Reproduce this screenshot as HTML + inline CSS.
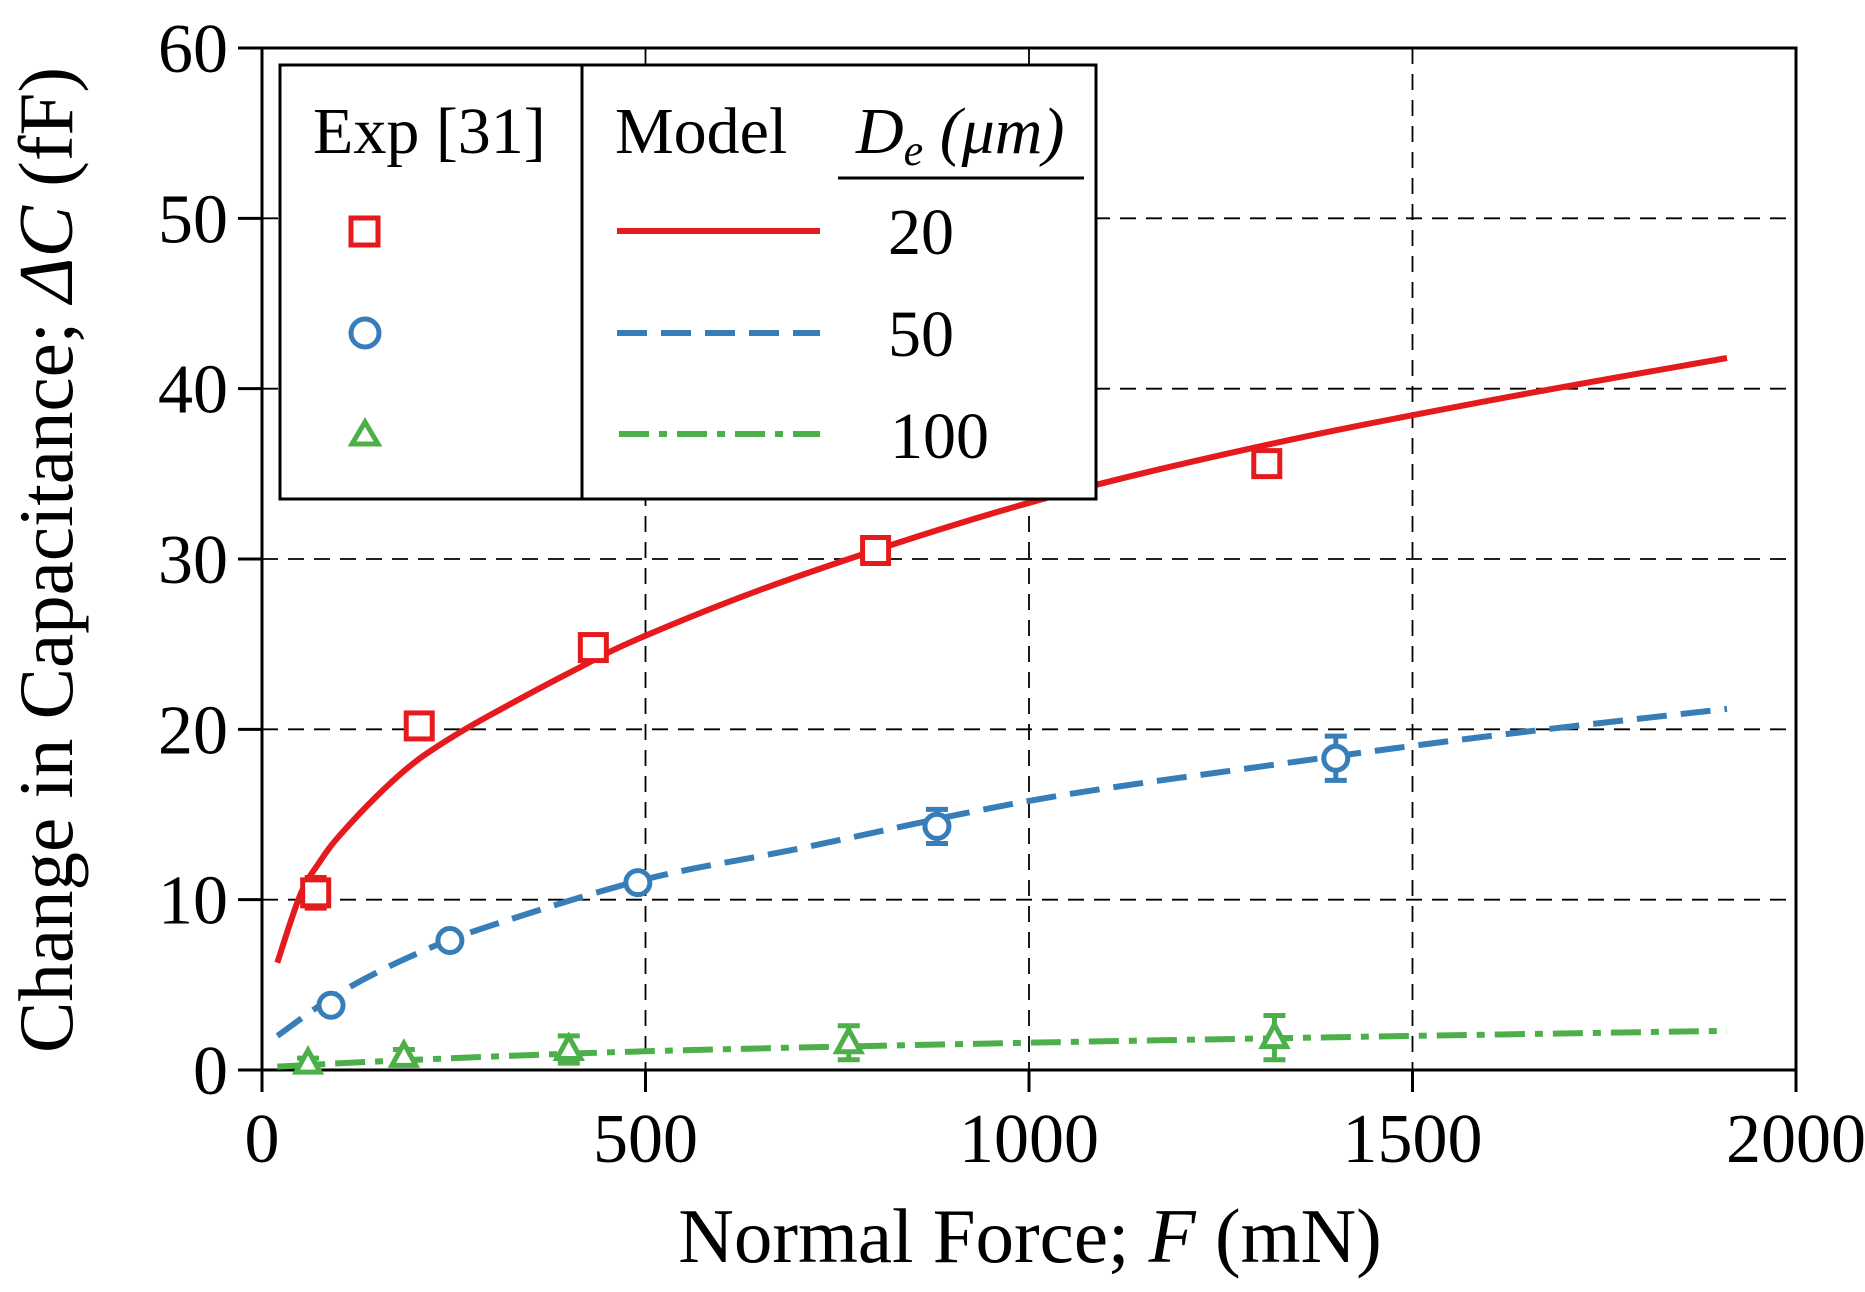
<!DOCTYPE html>
<html><head><meta charset="utf-8"><style>
body{margin:0;background:#fff}
svg{display:block;font-family:"Liberation Serif",serif}
</style></head><body>
<svg id="chart" width="1865" height="1292" viewBox="0 0 1865 1292">
<g id="grid"></g>
<g id="axes"></g>
<g id="series"></g>
<text x="1030" y="1262" font-size="77" text-anchor="middle">Normal Force; <tspan font-style="italic">F</tspan> (mN)</text>
<text transform="translate(72,560) rotate(-90)" font-size="77" text-anchor="middle">Change in Capacitance; <tspan font-style="italic">ΔC</tspan> (fF)</text>
<g>
<rect x="280" y="65" width="816" height="434" fill="#fff" stroke="#000" stroke-width="3"/>
<line x1="582" y1="65" x2="582" y2="499" stroke="#000" stroke-width="3"/>
<text x="313" y="153" font-size="66">Exp [31]</text>
<text x="615" y="153" font-size="66">Model</text>
<text x="856" y="153" font-size="66" font-style="italic">D<tspan font-size="44" dy="12">e</tspan><tspan dy="-12"> (μm)</tspan></text>
<line x1="838" y1="178" x2="1084" y2="178" stroke="#000" stroke-width="3"/>
<rect x="351" y="218" width="27" height="27" fill="none" stroke="#e41a1c" stroke-width="5"/>
<circle cx="365" cy="333" r="14" fill="none" stroke="#377eb8" stroke-width="5"/>
<path d="M365 422 L378 444 L352 444 Z" fill="none" stroke="#4daf4a" stroke-width="5"/>
<line x1="617" y1="231" x2="820" y2="231" stroke="#e41a1c" stroke-width="6"/>
<line x1="617" y1="333" x2="820" y2="333" stroke="#377eb8" stroke-width="6" stroke-dasharray="30,14"/>
<line x1="619" y1="434" x2="820" y2="434" stroke="#4daf4a" stroke-width="6" stroke-dasharray="30,10,8,10"/>
<text x="888" y="254" font-size="66">20</text>
<text x="888" y="356" font-size="66">50</text>
<text x="890" y="458" font-size="66">100</text>
</g>
</svg>
<script>
const xTicks=[0,500,1000,1500,2000];
const yTicks=[0,10,20,30,40,50,60];
const redCurveF=[20,50,75,100,150,200,250,300,400,500,700,1000,1300,1600,1910];
const redCurveC=[6.3,10.3,12.2,13.7,16.1,18.1,19.6,20.9,23.3,25.5,29,33.3,36.6,39.3,41.8];
const blueCurveF=[20,100,200,300,500,700,1000,1300,1600,1910];
const blueCurveC=[2,4.5,6.8,8.5,11.2,13,15.8,17.8,19.6,21.2];
const greenCurveF=[20,200,500,1000,1500,1910];
const greenCurveC=[0.2,0.6,1.1,1.6,2.0,2.3];
const redExpF=[70,205,432,800,1310];
const redExpC=[10.4,20.2,24.8,30.5,35.6];
const redExpErr=[0.9,0,0,0,0];
const blueExpF=[90,245,490,880,1400];
const blueExpC=[3.8,7.6,11,14.3,18.3];
const blueExpErr=[0,0,0,1,1.3];
const greenExpF=[60,185,400,765,1320];
const greenExpC=[0.4,0.8,1.2,1.6,1.9];
const greenExpErr=[0.3,0.4,0.8,1,1.3];

const X0=262,X1=1796,Y0=1070,Y1=48;
const sx=v=>X0+(v-0)/2000*(X1-X0);
const sy=v=>Y0-(v-0)/60*(Y0-Y1);
const NS='http://www.w3.org/2000/svg';
function mk(tag,attrs,parent){const e=document.createElementNS(NS,tag);for(const k in attrs)e.setAttribute(k,attrs[k]);parent.appendChild(e);return e;}
const grid=document.getElementById('grid'),axes=document.getElementById('axes'),ser=document.getElementById('series');
xTicks.forEach(t=>{
  if(t>0&&t<2000){const g=mk('line',{x1:sx(t),x2:sx(t),y1:Y1,y2:Y0,stroke:'#000','stroke-width':1.8,'stroke-dasharray':'16,10'},grid);
  
  }
  const tk=mk('line',{x1:sx(t),x2:sx(t),y1:Y0,y2:Y0+22,stroke:'#000','stroke-width':3},axes);
  
  
  const tx=mk('text',{x:sx(t),y:Y0+92,'font-size':70,'text-anchor':'middle'},axes);tx.textContent=t;
  
  
});
yTicks.forEach(t=>{
  if(t>0&&t<60){const g=mk('line',{x1:X0,x2:X1,y1:sy(t),y2:sy(t),stroke:'#000','stroke-width':1.8,'stroke-dasharray':'16,10'},grid);
  
  }
  const tk=mk('line',{x1:X0-24,x2:X0,y1:sy(t),y2:sy(t),stroke:'#000','stroke-width':3},axes);
  
  
  const tx=mk('text',{x:X0-34,y:sy(t)+24,'font-size':70,'text-anchor':'end'},axes);tx.textContent=t;
  
  
});
const fr=mk('rect',{x:X0,y:Y1,width:X1-X0,height:Y0-Y1,fill:'none',stroke:'#000','stroke-width':3},axes);


function curve(F,C,color,dash,name){
  const P=F.map((f,i)=>[sx(f),sy(C[i])]);
  let d='M'+P[0][0].toFixed(1)+' '+P[0][1].toFixed(1);
  for(let i=0;i<P.length-1;i++){
    const p0=P[Math.max(0,i-1)],p1=P[i],p2=P[i+1],p3=P[Math.min(P.length-1,i+2)];
    const c1=[p1[0]+(p2[0]-p0[0])/6,p1[1]+(p2[1]-p0[1])/6];
    const c2=[p2[0]-(p3[0]-p1[0])/6,p2[1]-(p3[1]-p1[1])/6];
    d+=` C${c1[0].toFixed(1)} ${c1[1].toFixed(1)} ${c2[0].toFixed(1)} ${c2[1].toFixed(1)} ${p2[0].toFixed(1)} ${p2[1].toFixed(1)}`;
  }
  const p=mk('path',{d:d,fill:'none',stroke:color,'stroke-width':6,'stroke-dasharray':dash},ser);
  
  
}
function points(F,C,E,color,shape,name){
  F.forEach((f,i)=>{
    const x=sx(f),y=sy(C[i]);
    const g=mk('g',{stroke:color,'stroke-width':5,fill:'none'},ser);
    
    
    if(E[i]>0){const y1=sy(C[i]+E[i]),y2=sy(C[i]-E[i]);
      mk('line',{x1:x,x2:x,y1:y1,y2:y2},g);mk('line',{x1:x-11,x2:x+11,y1:y1,y2:y1},g);mk('line',{x1:x-11,x2:x+11,y1:y2,y2:y2},g);}
    if(shape==='s')mk('rect',{x:x-13,y:y-13,width:26,height:26,fill:'#fff'},g);
    else if(shape==='c')mk('circle',{cx:x,cy:y,r:12,fill:'#fff'},g);
    else mk('path',{d:`M${x} ${y-13} L${x+12} ${y+9} L${x-12} ${y+9} Z`,fill:'#fff'},g);
  });
}
curve(redCurveF,redCurveC,'#e41a1c','none','model-line-20');
curve(blueCurveF,blueCurveC,'#377eb8','30,14','model-line-50');
curve(greenCurveF,greenCurveC,'#4daf4a','30,10,8,10','model-line-100');
points(redExpF,redExpC,redExpErr,'#e41a1c','s','exp-point-20');
points(blueExpF,blueExpC,blueExpErr,'#377eb8','c','exp-point-50');
points(greenExpF,greenExpC,greenExpErr,'#4daf4a','t','exp-point-100');
</script>
</body></html>
